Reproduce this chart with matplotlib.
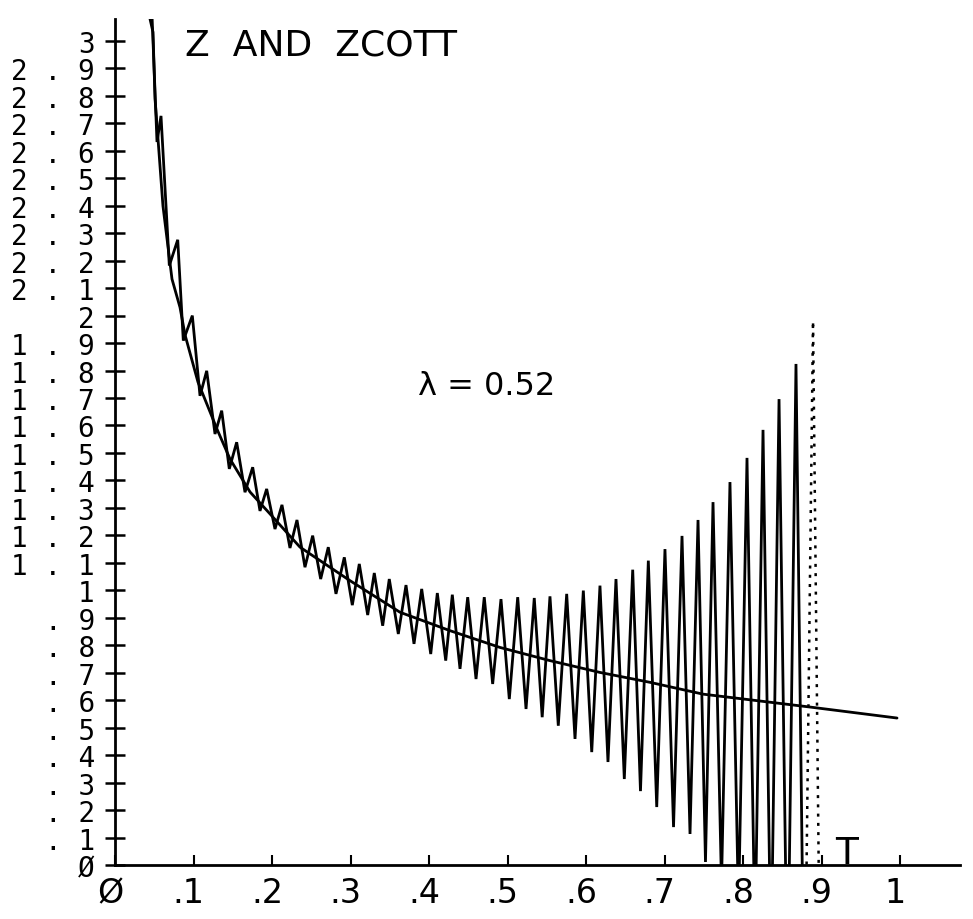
import numpy as np
import matplotlib
matplotlib.use("Agg")
import matplotlib.pyplot as plt
from matplotlib.transforms import ScaledTranslation

# Smooth curve Z(T)
t_z = [0.0446, 0.0484, 0.0510, 0.0611, 0.0726, 0.0828, 0.0892, 0.1057, 0.1299,
       0.1465, 0.1720, 0.1975, 0.2357, 0.2994, 0.3631, 0.4268, 0.4904, 0.5541,
       0.6178, 0.6815, 0.7490, 0.8854, 0.9962]
z = [3.080, 3.032, 2.789, 2.399, 2.133, 2.030, 1.930, 1.758, 1.587,
     1.478, 1.358, 1.278, 1.157, 1.035, 0.920, 0.853, 0.792, 0.744,
     0.701, 0.665, 0.622, 0.575, 0.535]

# Oscillating curve ZCOTT(T): alternating low / high samples
t_zc = [0.0433, 0.0535, 0.0586, 0.0692, 0.0799, 0.0870, 0.0985, 0.1083, 0.1168,
        0.1274, 0.1359, 0.1456, 0.1550, 0.1656, 0.1754, 0.1847, 0.1932, 0.2038,
        0.2127, 0.2229, 0.2318, 0.2420, 0.2518, 0.2620, 0.2717, 0.2815, 0.2921,
        0.3023, 0.3112, 0.3219, 0.3303, 0.3410, 0.3494, 0.3609, 0.3707, 0.3809,
        0.3907, 0.4022, 0.4106, 0.4213, 0.4297, 0.4395, 0.4493, 0.4599, 0.4704,
        0.4811, 0.4917, 0.5023, 0.5130, 0.5236, 0.5341, 0.5442, 0.5541, 0.5647,
        0.5754, 0.5860, 0.5966, 0.6073, 0.6178, 0.6280, 0.6382, 0.6488, 0.6595,
        0.6694, 0.6794, 0.6901, 0.7006, 0.7115, 0.7223, 0.7325, 0.7427, 0.7522,
        0.7618, 0.7726, 0.7834, 0.7943, 0.8051, 0.8153, 0.8255, 0.8357, 0.8459,
        0.8567, 0.8675, 0.8783, 0.8892, 0.8994]
zcott = [3.371, 2.632, 2.727, 2.182, 2.276, 1.909, 2.000, 1.708, 1.799,
         1.569, 1.654, 1.442, 1.539, 1.357, 1.448, 1.289, 1.369, 1.223,
         1.311, 1.154, 1.256, 1.084, 1.199, 1.041, 1.157, 0.987, 1.120,
         0.946, 1.096, 0.910, 1.063, 0.871, 1.041, 0.841, 1.019, 0.805,
         1.005, 0.768, 0.990, 0.744, 0.984, 0.714, 0.975, 0.677, 0.975,
         0.659, 0.968, 0.604, 0.975, 0.568, 0.972, 0.538, 0.978, 0.507,
         0.987, 0.459, 0.999, 0.411, 1.017, 0.375, 1.041, 0.313, 1.075,
         0.269, 1.108, 0.211, 1.150, 0.138, 1.198, 0.113, 1.256, 0.011,
         1.321, -0.07, 1.394, -0.16, 1.482, -0.27, 1.584, -0.38, 1.696,
         -0.51, 1.824, -0.65, 1.980, -0.82]

x_tick_labels = ["Ø", ".1", ".2", ".3", ".4", ".5", ".6", ".7", ".8", ".9", "1"]
y_tick_labels = ["Ø", ". 1", ". 2", ". 3", ". 4", ". 5", ". 6", ". 7", ". 8", ". 9",
                 "1", "1 . 1", "1 . 2", "1 . 3", "1 . 4", "1 . 5", "1 . 6", "1 . 7",
                 "1 . 8", "1 . 9",
                 "2", "2 . 1", "2 . 2", "2 . 3", "2 . 4", "2 . 5", "2 . 6", "2 . 7",
                 "2 . 8", "2 . 9", "3"]

W, H = 973, 920
fig = plt.figure(figsize=(W / 100, H / 100), dpi=100)
fig.patch.set_facecolor("white")

x_max, y_max = 1.076, 3.08
ax = fig.add_axes([115 / W, 54 / H, x_max * 785 / W, y_max * 274.7 / H])
ax.set_xlim(0, x_max)
ax.set_ylim(0, y_max)
ax.set_facecolor("white")

for side in ("top", "right"):
    ax.spines[side].set_visible(False)
for side in ("left", "bottom"):
    ax.spines[side].set_linewidth(2.0)
    ax.spines[side].set_color("black")

# Z and the oscillating ZCOTT (last swing drawn broken, like a dry pen)
ax.plot(t_z, z, color="black", lw=2.0, solid_capstyle="round")
ax.plot(t_zc[:-2], zcott[:-2], color="black", lw=2.0, solid_joinstyle="miter")
ax.plot(t_zc[-3:], zcott[-3:], color="black", lw=1.8, ls=(0, (1.2, 2.5)))

ax.set_xticks(np.linspace(0, 1, 11))
ax.set_xticklabels(x_tick_labels, fontfamily="DejaVu Sans", fontsize=24)
ax.set_yticks(np.linspace(0, 3, 31))
ax.set_yticklabels(y_tick_labels, fontfamily="DejaVu Sans Mono", fontsize=20)
ax.tick_params(axis="x", direction="in", length=7, width=1.5, pad=8)
ax.tick_params(axis="y", direction="inout", length=15, width=1.8, pad=7)

# nudge the T labels a little to the left of their ticks
shift = ScaledTranslation(-5 / 100, 0, fig.dpi_scale_trans)
for lbl in ax.get_xticklabels():
    lbl.set_transform(lbl.get_transform() + shift)

fig.text(185 / W, 1 - 55 / H, "Z  AND  ZCOTT", fontsize=26, family="DejaVu Sans",
         va="baseline", ha="left")
fig.text(418 / W, 1 - 395 / H, "λ = 0.52", fontsize=23, family="DejaVu Sans",
         va="baseline", ha="left")
fig.text(835 / W, 1 - 864 / H, "T", fontsize=27, family="DejaVu Sans",
         va="baseline", ha="left")

fig.savefig("out.png", dpi=100, facecolor="white")
